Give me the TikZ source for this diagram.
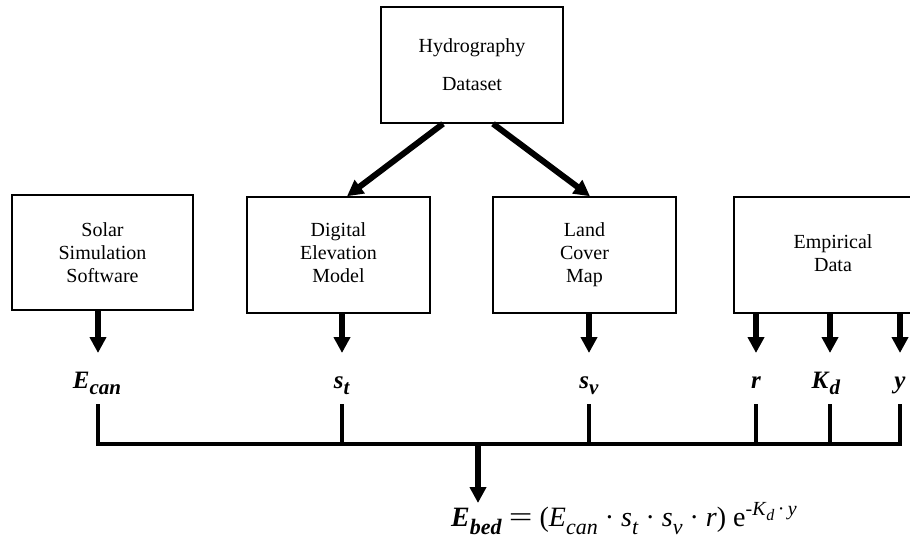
\documentclass[tikz,border=0pt]{standalone}
\usepackage{graphicx}
\usepackage{fontspec}
\setmainfont{Liberation Serif}
\usetikzlibrary{arrows.meta}
\newcommand{\bi}[1]{\textbf{\textit{#1}}}
% label subscript
\newcommand{\lsub}[1]{\raisebox{-6pt}{\fontsize{21}{21}\selectfont #1}}
% formula pieces
\newcommand{\fsub}[1]{\raisebox{-8pt}{\fontsize{22}{22}\selectfont #1}}
\newcommand{\stack}[1]{\begin{tabular}{@{}c@{}}#1\end{tabular}}
\begin{document}
\begin{tikzpicture}[x=1pt,y=-1pt,
  box/.style={draw, line width=1.5pt, minimum width=182pt, minimum height=116pt,
    inner sep=0pt, align=center, font=\fontsize{20}{23}\selectfont},
  arr/.style={line width=6pt, -{Triangle[width=16pt,length=16pt]}},
  busline/.style={line width=3.8pt},
  lab/.style={inner sep=0pt, font=\fontsize{25}{28}\selectfont, anchor=base}]
\useasboundingbox (0,0) rectangle (910,546);
\clip (0,0) rectangle (910,546);

% boxes
\node[box, font=\fontsize{20}{38}\selectfont] (hyd) at (472,65) {Hydrography\\Dataset};
\node[box, minimum width=181pt, minimum height=115pt] (solar) at (102.5,252.5) {Solar\\Simulation\\Software};
\node[box, minimum width=183pt] (dem) at (338.5,255) {\raisebox{-3pt}{\stack{Digital\\Elevation\\Model}}};
\node[box, minimum width=183pt] (land) at (584.5,255) {Land\\Cover\\Map};
\node[box, minimum width=198pt] (emp) at (833,255) {\raisebox{4pt}{\stack{Empirical\\Data}}};

% labels
\node[lab] (Ecan) at (97,388) {\bi{E}\lsub{\bi{can}}};
\node[lab] (st) at (342,388) {\bi{s}\lsub{\bi{t}}};
\node[lab] (sv) at (589,388) {\bi{s}\lsub{\bi{v}}};
\node[lab] (r) at (756,388) {\bi{r}};
\node[lab] (Kd) at (826,388) {\bi{K}\lsub{\bi{d}}};
\node[lab] (yv) at (900,388) {\bi{y}};

% formula
\node[anchor=base west, inner sep=0pt, font=\fontsize{28}{30}\selectfont] (formula) at (451,526)
  {\bi{E}\fsub{\bi{bed}} \scalebox{1.5}[1]{=} (\textit{E}\fsub{\textit{can}} · \textit{s}\fsub{\textit{t}} · \textit{s}\fsub{\textit{v}} · \textit{r}) e\raisebox{11pt}{\fontsize{20}{20}\selectfont
     -\textit{K}\raisebox{-5pt}{\fontsize{16}{16}\selectfont\textit{d}}\,·\,\textit{y}}};

\coordinate (bus) at (478,444);

% arrows from hydrography
\draw[arr] ([xshift=-29pt]hyd.south) -- ([xshift=8.5pt]dem.north);
\draw[arr] ([xshift=21pt]hyd.south) -- ([xshift=5.5pt]land.north);

% arrows to labels
\draw[arr] (solar.south -| 98,0) -- ([yshift=35pt]Ecan.base -| 98,0);
\draw[arr] (dem.south -| st.base) -- ([yshift=35pt]st.base);
\draw[arr] (land.south -| sv.base) -- ([yshift=35pt]sv.base);
\draw[arr] (emp.south -| r.base) -- ([yshift=35pt]r.base);
\draw[arr] (emp.south -| 830,0) -- ([yshift=35pt]Kd.base -| 830,0);
\draw[arr] (emp.south -| yv.base) -- ([yshift=35pt]yv.base);

% bus
\draw[busline] ([yshift=-16pt]Ecan.base -| 98,0) |- (bus -| yv.base) -- ([yshift=-16pt]yv.base);
\foreach \n in {st,sv,r}
  \draw[busline] ([yshift=-16pt]\n.base) -- (\n.base |- bus);
\draw[busline] ([yshift=-16pt]Kd.base -| 830,0) -- (bus -| 830,0);
\draw[arr] (bus) -- ++(0,59);
\end{tikzpicture}
\end{document}
